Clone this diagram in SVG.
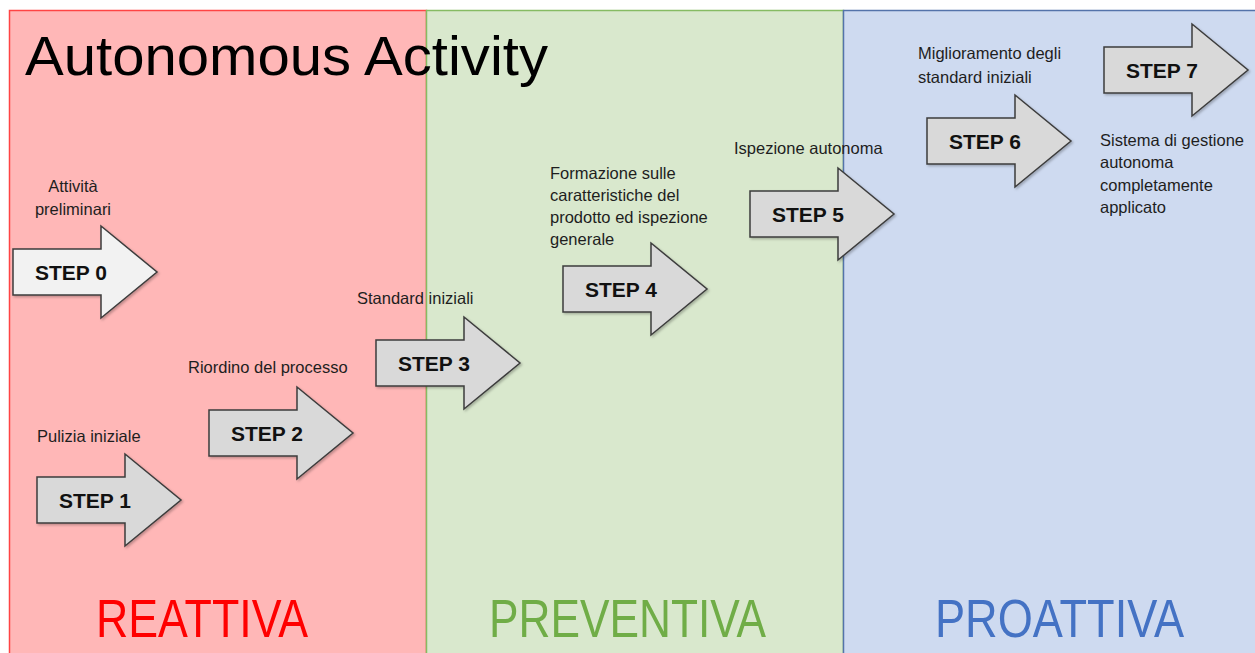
<svg xmlns="http://www.w3.org/2000/svg" xmlns:xlink="http://www.w3.org/1999/xlink" width="1255" height="653" viewBox="0 0 1255 653">
  <style>
    .lbl { font-family: "Liberation Sans", Arial, sans-serif; font-size: 16.5px; fill: #1e1e1e; }
    .step { font-family: "Liberation Sans", Arial, sans-serif; font-size: 20px; font-weight: bold; fill: #111; }
    .phase { font-family: "Liberation Sans", Arial, sans-serif; font-size: 54px; }
    .arrow { stroke: #3c3c3c; stroke-width: 1.5; stroke-linejoin: miter; }
  </style>
  <defs>
    <!-- block arrow, 144 x 92, pointing right -->
    <path id="blockArrow" d="M0,23 H88 V0 L144,46 L88,92 V69 H0 Z"/>
    <filter id="soft" x="-10%" y="-10%" width="130%" height="130%">
      <feDropShadow dx="1.5" dy="1.5" stdDeviation="1.2" flood-color="#000" flood-opacity="0.25"/>
    </filter>
  </defs>

  <rect width="1255" height="653" fill="#ffffff"/>

  <!-- phase bands -->
  <g id="band-reattiva">
    <rect x="9.5" y="10.5" width="417" height="650" fill="#ffb7b7" stroke="#ff4444" stroke-width="1.5"/>
    <text class="phase" x="96" y="637" fill="#ff0000" textLength="212" lengthAdjust="spacingAndGlyphs">REATTIVA</text>
  </g>
  <g id="band-preventiva">
    <rect x="426.5" y="10.5" width="417" height="650" fill="#d9e8cd" stroke="#86bb63" stroke-width="1.5"/>
    <text class="phase" x="489" y="637" fill="#70ad47" textLength="277" lengthAdjust="spacingAndGlyphs">PREVENTIVA</text>
  </g>
  <g id="band-proattiva">
    <rect x="843.5" y="10.5" width="420" height="650" fill="#cedaf0" stroke="#5473aa" stroke-width="1.5"/>
    <text class="phase" x="935" y="637" fill="#4472c4" textLength="249" lengthAdjust="spacingAndGlyphs">PROATTIVA</text>
  </g>

  <g id="title">
    <text x="25" y="75" font-family="'Liberation Sans', Arial, sans-serif" font-size="56" fill="#000" textLength="523" lengthAdjust="spacingAndGlyphs">Autonomous Activity</text>
  </g>

  <!-- steps -->
  <g id="step0">
    <use xlink:href="#blockArrow" x="13" y="226" class="arrow" fill="#f2f2f2" filter="url(#soft)"/>
    <text class="step" x="35" y="279.5" textLength="72" lengthAdjust="spacingAndGlyphs">STEP 0</text>
    <text class="lbl" x="73" y="192" text-anchor="middle">Attività</text>
    <text class="lbl" x="73" y="215" text-anchor="middle">preliminari</text>
  </g>
  <g id="step1">
    <use xlink:href="#blockArrow" x="37" y="454" class="arrow" fill="#d9d9d9" filter="url(#soft)"/>
    <text class="step" x="59" y="507.5" textLength="72" lengthAdjust="spacingAndGlyphs">STEP 1</text>
    <text class="lbl" x="37" y="442">Pulizia iniziale</text>
  </g>
  <g id="step2">
    <use xlink:href="#blockArrow" x="209" y="387" class="arrow" fill="#d9d9d9" filter="url(#soft)"/>
    <text class="step" x="231" y="440.5" textLength="72" lengthAdjust="spacingAndGlyphs">STEP 2</text>
    <text class="lbl" x="188" y="373">Riordino del processo</text>
  </g>
  <g id="step3">
    <use xlink:href="#blockArrow" x="376" y="317" class="arrow" fill="#d9d9d9" filter="url(#soft)"/>
    <text class="step" x="398" y="370.5" textLength="72" lengthAdjust="spacingAndGlyphs">STEP 3</text>
    <text class="lbl" x="357" y="304">Standard iniziali</text>
  </g>
  <g id="step4">
    <use xlink:href="#blockArrow" x="563" y="243" class="arrow" fill="#d9d9d9" filter="url(#soft)"/>
    <text class="step" x="585" y="296.5" textLength="72" lengthAdjust="spacingAndGlyphs">STEP 4</text>
    <text class="lbl" x="550" y="179">Formazione sulle</text>
    <text class="lbl" x="550" y="201">caratteristiche del</text>
    <text class="lbl" x="550" y="223">prodotto ed ispezione</text>
    <text class="lbl" x="550" y="245">generale</text>
  </g>
  <g id="step5">
    <use xlink:href="#blockArrow" x="750" y="168" class="arrow" fill="#d9d9d9" filter="url(#soft)"/>
    <text class="step" x="772" y="221.5" textLength="72" lengthAdjust="spacingAndGlyphs">STEP 5</text>
    <text class="lbl" x="734" y="154">Ispezione autonoma</text>
  </g>
  <g id="step6">
    <use xlink:href="#blockArrow" x="927" y="95" class="arrow" fill="#d9d9d9" filter="url(#soft)"/>
    <text class="step" x="949" y="148.5" textLength="72" lengthAdjust="spacingAndGlyphs">STEP 6</text>
    <text class="lbl" x="918" y="59">Miglioramento degli</text>
    <text class="lbl" x="918" y="83">standard iniziali</text>
  </g>
  <g id="step7">
    <use xlink:href="#blockArrow" x="1104" y="24" class="arrow" fill="#d9d9d9" filter="url(#soft)"/>
    <text class="step" x="1126" y="77.5" textLength="72" lengthAdjust="spacingAndGlyphs">STEP 7</text>
    <text class="lbl" x="1100" y="146">Sistema di gestione</text>
    <text class="lbl" x="1100" y="168">autonoma</text>
    <text class="lbl" x="1100" y="191">completamente</text>
    <text class="lbl" x="1100" y="213">applicato</text>
  </g>

  <!-- no connectors: the steps stand alone -->
  <g id="connectors"/>
</svg>
